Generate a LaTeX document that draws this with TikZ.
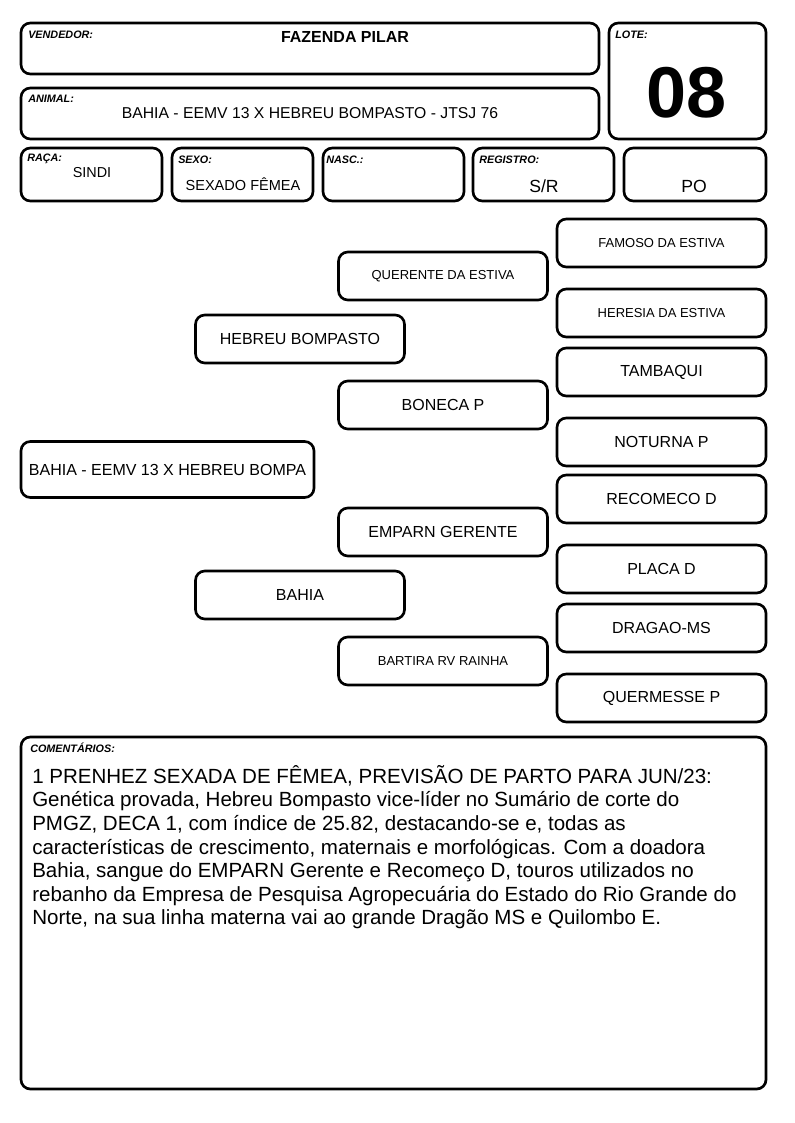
\documentclass[tikz,border=0pt]{standalone}
\usepackage{fontspec}
\setmainfont{Liberation Sans}
\begin{document}
\begin{tikzpicture}[x=0.75pt,y=-0.75pt,
  box/.style={draw,line width=2pt,rounded corners=7pt},
  lbl/.style={anchor=west,inner sep=0pt,font=\fontsize{8.1}{9}\selectfont\bfseries\itshape},
  val/.style={inner sep=0pt,font=\fontsize{12}{14}\selectfont},
  ped/.style={draw,line width=2pt,rounded corners=7pt,minimum width=156.75pt,minimum height=36pt,inner sep=0pt,font=\fontsize{12}{14}\selectfont},
  peds/.style={ped,font=\fontsize{9.75}{12}\selectfont}]
\useasboundingbox (0,0) rectangle (794,1123);
% header boxes
\draw[box] (21,23) rectangle (599,74);
\node[lbl] (vend) at (28,35) {VENDEDOR:};
\node[val,font=\fontsize{12}{14}\selectfont\bfseries] (faz) at (345,37) {FAZENDA PILAR};
\draw[box] (609,23) rectangle (766,139);
\node[lbl] (lote) at (615,35) {LOTE:};
\node[inner sep=0pt,font=\fontsize{54}{60}\selectfont\bfseries] (num) at (687,93) {08};
\draw[box] (21,88) rectangle (599,139);
\node[lbl] (anim) at (28,99) {ANIMAL:};
\node[val,font=\fontsize{11.8}{14}\selectfont] (animv) at (310,113) {BAHIA - EEMV 13 X HEBREU BOMPASTO - JTSJ 76};
% row 3
\draw[box] (21,148) rectangle (162,201);
\node[lbl] (raca) at (27,159) {RAÇA:};
\node[val,font=\fontsize{10.8}{13}\selectfont] (racav) at (92,173) {SINDI};
\draw[box] (172,148) rectangle (313,201);
\node[lbl] (sexo) at (178,160) {SEXO:};
\node[val,font=\fontsize{10.9}{13}\selectfont] (sexov) at (243,184) {SEXADO FÊMEA};
\draw[box] (323,148) rectangle (464,201);
\node[lbl] (nasc) at (326,160) {NASC.:};
\draw[box] (473,148) rectangle (614,201);
\node[lbl] (reg) at (479,160) {REGISTRO:};
\node[val,font=\fontsize{13.2}{15}\selectfont] (regv) at (544,186) {S/R};
\draw[box] (624,148) rectangle (766,201);
\node[val,font=\fontsize{13.2}{15}\selectfont] (po) at (694,186) {PO};
% pedigree
\node[peds] (famoso) at (661.5,243) {FAMOSO DA ESTIVA};
\node[peds] (querente) at (443,276) {QUERENTE DA ESTIVA};
\node[peds] (heresia) at (661.5,313) {HERESIA DA ESTIVA};
\node[ped] (hebreu) at (300,339) {HEBREU BOMPASTO};
\node[ped] (tambaqui) at (661.5,372) {TAMBAQUI};
\node[ped] (boneca) at (443,405) {BONECA P};
\node[ped] (noturna) at (661.5,442) {NOTURNA P};
\node[ped,minimum width=219.75pt,minimum height=42pt] (main) at (167.5,469.5) {BAHIA - EEMV 13 X HEBREU BOMPA};
\node[ped] (recomeco) at (661.5,499) {RECOMECO D};
\node[ped] (emparn) at (443,532) {EMPARN GERENTE};
\node[ped] (placa) at (661.5,569) {PLACA D};
\node[ped] (bahia) at (300,595) {BAHIA};
\node[ped] (dragao) at (661.5,628) {DRAGAO-MS};
\node[peds] (bartira) at (443,661) {BARTIRA RV RAINHA};
\node[ped] (quermesse) at (661.5,698) {QUERMESSE P};
% comments
\draw[box] (21,737) rectangle (766,1089);
\node[lbl] (coment) at (30,748) {COMENTÁRIOS:};
\node[anchor=north west,inner sep=0pt,align=left,font=\fontsize{15.4}{17.7}\selectfont] (comtext) at (32,765) {1 PRENHEZ SEXADA DE FÊMEA, PREVISÃO DE PARTO PARA JUN/23:\\
Genética provada, Hebreu Bompasto vice-líder no Sumário de corte do\\
PMGZ, DECA 1, com índice de 25.82, destacando-se e, todas as\\
características de crescimento, maternais e morfológicas. Com a doadora\\
Bahia, sangue do EMPARN Gerente e Recomeço D, touros utilizados no\\
rebanho da Empresa de Pesquisa Agropecuária do Estado do Rio Grande do\\
Norte, na sua linha materna vai ao grande Dragão MS e Quilombo E.};
\end{tikzpicture}
\end{document}
